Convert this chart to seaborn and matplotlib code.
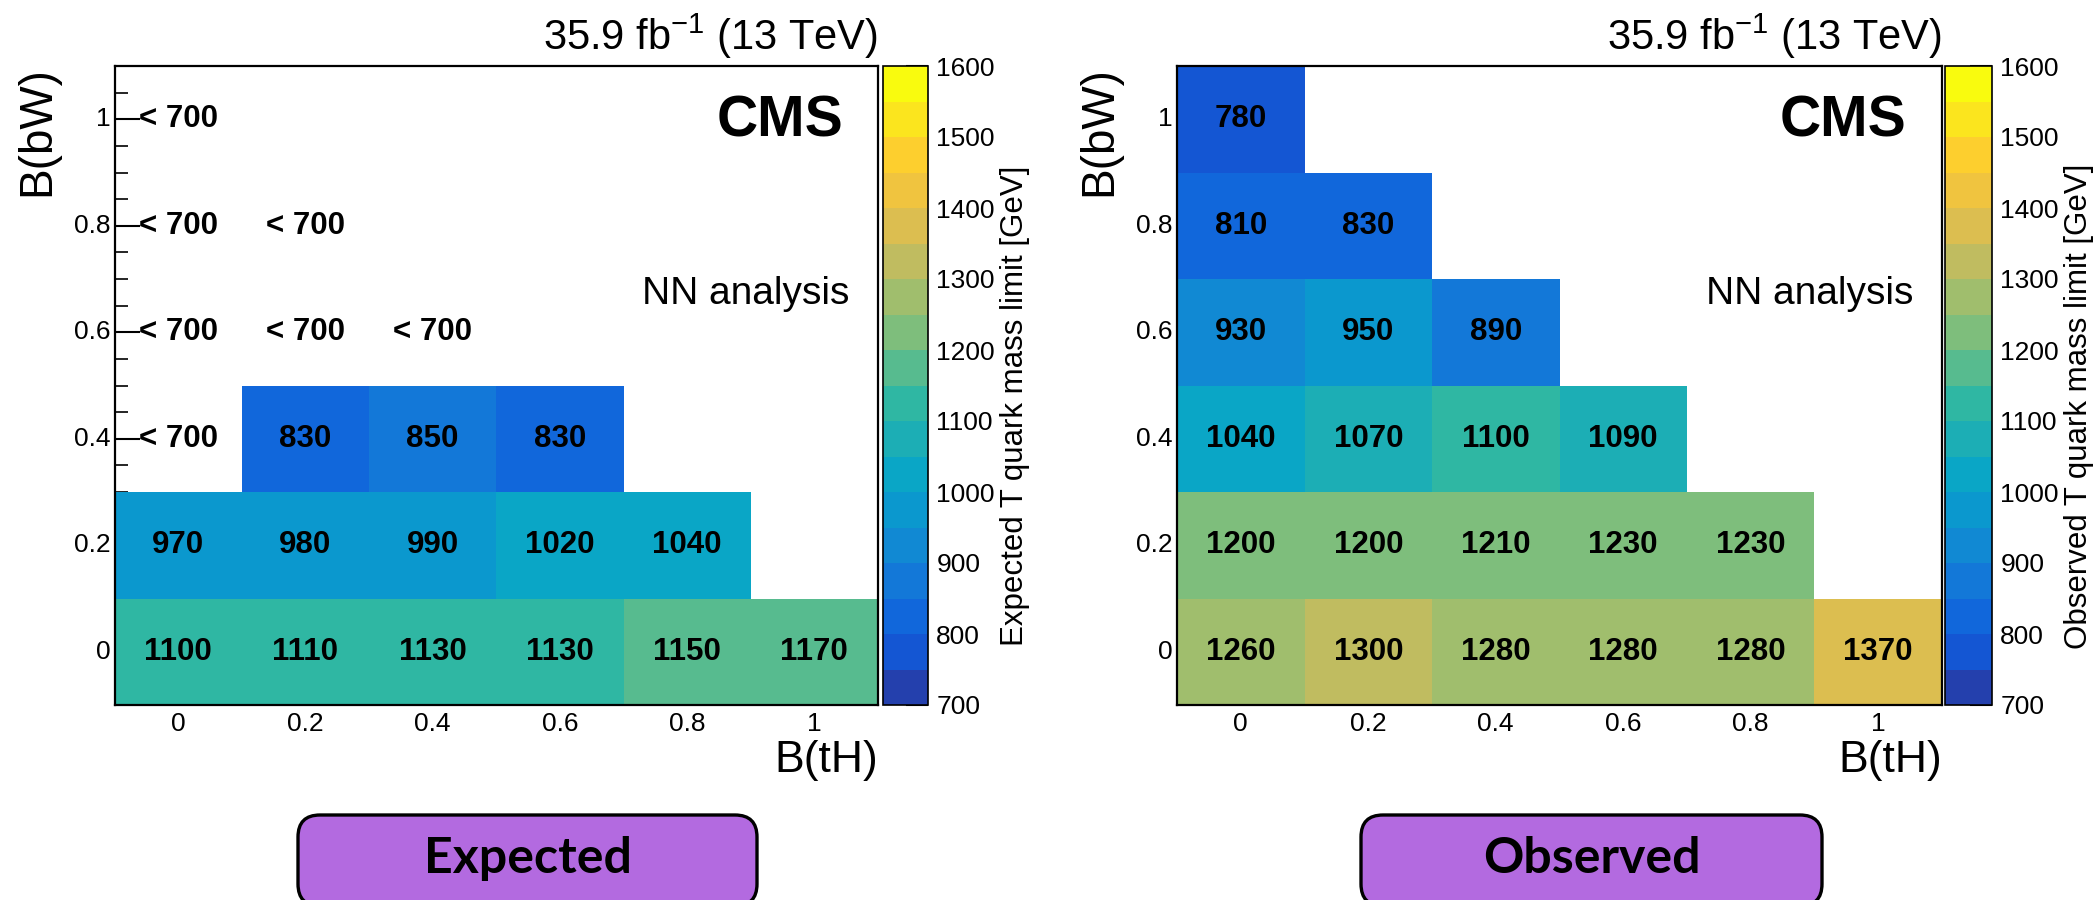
import numpy as np
import pandas as pd
import matplotlib
matplotlib.use("Agg")
import matplotlib.pyplot as plt
import seaborn as sns
from matplotlib.colors import LinearSegmentedColormap, ListedColormap, BoundaryNorm
from matplotlib.patches import FancyBboxPatch
from matplotlib.ticker import FixedLocator

sns.set_style("white")
plt.rcParams["font.family"] = ["Liberation Sans", "DejaVu Sans"]
plt.rcParams["mathtext.fontset"] = "custom"
plt.rcParams["mathtext.rm"] = "Liberation Sans"
plt.rcParams["mathtext.it"] = "Liberation Sans:italic"
plt.rcParams["mathtext.bf"] = "Liberation Sans:bold"
for key in ("text.color", "axes.labelcolor", "xtick.color", "ytick.color"):
    plt.rcParams[key] = "black"

# ---- data -------------------------------------------------------------
# branching-fraction grid points
b_tH = [0.0, 0.2, 0.4, 0.6, 0.8, 1.0]
b_bW = [0.0, 0.2, 0.4, 0.6, 0.8, 1.0]

NA = None      # unphysical point, B(tH) + B(bW) > 1
BELOW = -1     # limit lies below the lowest simulated mass

# rows: B(bW) = 0 ... 1, columns: B(tH) = 0 ... 1
expected_limit = [
    [1100, 1110, 1130, 1130, 1150, 1170],
    [970, 980, 990, 1020, 1040, NA],
    [BELOW, 830, 850, 830, NA, NA],
    [BELOW, BELOW, BELOW, NA, NA, NA],
    [BELOW, BELOW, NA, NA, NA, NA],
    [BELOW, NA, NA, NA, NA, NA],
]
observed_limit = [
    [1260, 1300, 1280, 1280, 1280, 1370],
    [1200, 1200, 1210, 1230, 1230, NA],
    [1040, 1070, 1100, 1090, NA, NA],
    [930, 950, 890, NA, NA, NA],
    [810, 830, NA, NA, NA, NA],
    [780, NA, NA, NA, NA, NA],
]

z_levels = list(range(700, 1601, 50))
z_ticks = list(range(700, 1601, 100))
panel_names = ["Expected", "Observed"]
z_titles = ["Expected T quark mass limit [GeV]",
            "Observed T quark mass limit [GeV]"]
lumi_text = "35.9 fb$^{-1}$ (13 TeV)"

# ---- palette (ROOT "bird") ---------------------------------------------
bird_rgb = [
    (0.2082, 0.1664, 0.5293), (0.0592, 0.3599, 0.8684), (0.0780, 0.5041, 0.8385),
    (0.0232, 0.6419, 0.7914), (0.1802, 0.7178, 0.6425), (0.5301, 0.7492, 0.4662),
    (0.8186, 0.7328, 0.3499), (0.9956, 0.7862, 0.1968), (0.9764, 0.9832, 0.0539),
]
bird = LinearSegmentedColormap.from_list(
    "bird", list(zip(np.linspace(0, 1, len(bird_rgb)), bird_rgb)))
n_bands = len(z_levels) - 1
band_cmap = ListedColormap([bird((i + 1) / n_bands) for i in range(n_bands)])
norm = BoundaryNorm(z_levels, n_bands)

# ---- figure -----------------------------------------------------------
W, H = 2097, 900
fig = plt.figure(figsize=(W / 100, H / 100), dpi=100)


def px_axes(x0, x1, ytop, ybot):
    return fig.add_axes([x0 / W, 1 - ybot / H, (x1 - x0) / W, (ybot - ytop) / H])


layout = [
    dict(ax=(114.5, 878, 66, 705), cax=(883, 928, 66, 705), box=(298, 757)),
    dict(ax=(1177, 1942, 66, 705), cax=(1945, 1992, 66, 705), box=(1361, 1822)),
]


def to_frame(grid):
    arr = np.array([[np.nan if (v is None or v == BELOW) else v for v in row]
                    for row in grid], dtype=float)
    return pd.DataFrame(arr, index=b_bW, columns=b_tH)


cell_font = dict(fontsize=22.5, fontweight="bold", color="black")
tick_size = 19

for grid, name, ztitle, lay in zip([expected_limit, observed_limit],
                                   panel_names, z_titles, layout):
    ax = px_axes(*lay["ax"])
    cax = px_axes(*lay["cax"])
    df = to_frame(grid)
    annot = np.vectorize(lambda v: "" if np.isnan(v) else f"{v:.0f}")(df.values)
    sns.heatmap(df, ax=ax, cbar_ax=cax, cmap=band_cmap, norm=norm,
                annot=annot, fmt="", linewidths=0, annot_kws=cell_font,
                cbar_kws=dict(ticks=z_ticks))
    ax.invert_yaxis()

    # cells whose limit falls below the scanned mass range
    for i, row in enumerate(grid):
        for j, v in enumerate(row):
            if v == BELOW:
                ax.text(j + 0.5, i + 0.5, f"< {z_levels[0]}", ha="center",
                        va="center", **cell_font)

    # axes frame and ticks
    for sp in ax.spines.values():
        sp.set_visible(True)
        sp.set_color("black")
        sp.set_linewidth(1.6)
    nx, ny = len(b_tH), len(b_bW)
    ax.set_xticks([j + 0.5 for j in range(nx)])
    ax.set_xticklabels([f"{v:g}" for v in b_tH], rotation=0)
    ax.set_yticks([i + 0.5 for i in range(ny)])
    ax.set_yticklabels([f"{v:g}" for v in b_bW], rotation=0)
    minor_x = [k * 0.25 for k in range(1, 4 * nx) if k % 4 != 2]
    minor_y = [k * 0.25 for k in range(1, 4 * ny) if k % 4 != 2]
    ax.xaxis.set_minor_locator(FixedLocator(minor_x))
    ax.yaxis.set_minor_locator(FixedLocator(minor_y))
    ax.tick_params(axis="x", which="major", direction="in", length=13, width=1.5,
                   bottom=True, top=False, labelsize=tick_size, pad=5, colors="black")
    ax.tick_params(axis="x", which="minor", direction="in", length=6.5, width=1.2,
                   bottom=True, top=False)
    ax.tick_params(axis="y", which="major", direction="in", length=18, width=1.5,
                   left=True, right=False, labelsize=tick_size, pad=3, colors="black")
    ax.tick_params(axis="y", which="minor", direction="in", length=9, width=1.2,
                   left=True, right=False)

    ax.set_xlabel("B(tH)", fontsize=32, loc="right")
    ax.xaxis.set_label_coords(1.0, -0.055)
    ax.set_ylabel("B(bW)", fontsize=33, loc="top")
    ax.yaxis.set_label_coords(-0.073, 1.0)

    ax.annotate(lumi_text, xy=(1, 1), xycoords="axes fraction", xytext=(0, 11.5),
                textcoords="offset points", ha="right", va="baseline", fontsize=30)
    ax.text(0.954, 0.889, "CMS", transform=ax.transAxes, ha="right",
            va="baseline", fontsize=41, fontweight="bold")
    ax.text(0.962, 0.6275, "NN analysis", transform=ax.transAxes, ha="right",
            va="baseline", fontsize=28)

    # colour scale
    cb = ax.collections[0].colorbar
    cb.outline.set_linewidth(1.2)
    cb.outline.set_edgecolor("black")
    cax.tick_params(axis="y", which="major", direction="in", length=16, width=1.5,
                    right=True, left=False, labelsize=tick_size, pad=6, colors="black")
    cax.tick_params(axis="y", which="minor", length=0)
    cax.set_ylabel(ztitle, fontsize=22.5)
    cax.yaxis.set_label_position("right")
    cx0, cx1 = lay["cax"][0], lay["cax"][1]
    cax.yaxis.set_label_coords((cx1 + 72 - cx0) / (cx1 - cx0), 0.468)

    # panel tag
    bx0, bx1 = lay["box"]
    box = FancyBboxPatch((bx0 / 100, -0.06), (bx1 - bx0) / 100, 0.91,
                         boxstyle="round,pad=0,rounding_size=0.22",
                         transform=fig.dpi_scale_trans, facecolor="#b36ae0",
                         edgecolor="black", linewidth=2.4, clip_on=False)
    fig.add_artist(box)
    fig.text((bx0 + bx1) / 200, 0.27, name, transform=fig.dpi_scale_trans,
             ha="center", va="baseline", fontsize=36, fontweight="bold",
             family=["Lato", "DejaVu Sans"], color="black")

fig.savefig("out.png", dpi=100, facecolor="white")
